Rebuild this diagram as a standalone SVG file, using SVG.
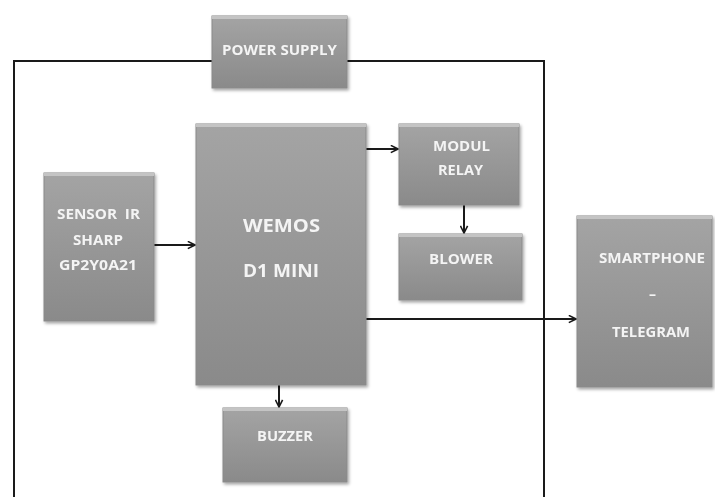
<svg xmlns="http://www.w3.org/2000/svg" width="715" height="497" viewBox="0 0 715 497">
<style>
.box{fill:url(#g);stroke:#8a8a8a;stroke-width:1}
.hl{fill:#c4c4c4}
.t{font-family:"Open Sans","Liberation Sans",sans-serif;font-weight:bold;fill:#f4f4f4;text-anchor:middle;font-size:14px}
.big{font-size:18px}
.c{stroke:#1a1a1a;stroke-width:2;fill:none}
</style>
<defs>
<linearGradient id="g" x1="0" y1="0" x2="0" y2="1">
<stop offset="0" stop-color="#a4a4a4"/>
<stop offset="1" stop-color="#8a8a8a"/>
</linearGradient>
<filter id="sh" x="-10%" y="-10%" width="130%" height="130%">
<feDropShadow dx="1.5" dy="2" stdDeviation="1.5" flood-color="#000" flood-opacity="0.35"/>
</filter>
<marker id="a" viewBox="0 0 10 10" refX="9" refY="5" markerWidth="9" markerHeight="9" markerUnits="userSpaceOnUse" orient="auto">
<path d="M1,1 L9,5 L1,9" fill="none" stroke="#1a1a1a" stroke-width="1.8"/>
</marker>
</defs>
<rect width="715" height="497" fill="#ffffff"/>
<g id="connectors">
<polyline class="c" points="14,497 14,61 212,61"/>
<polyline class="c" points="347,61 544,61 544,497"/>
<line class="c" x1="154" y1="245" x2="195" y2="245" marker-end="url(#a)"/>
<line class="c" x1="366" y1="149" x2="398" y2="149" marker-end="url(#a)"/>
<line class="c" x1="464" y1="205" x2="464" y2="233" marker-end="url(#a)"/>
<line class="c" x1="366" y1="319" x2="576" y2="319" marker-end="url(#a)"/>
<line class="c" x1="279" y1="385" x2="279" y2="407" marker-end="url(#a)"/>
</g>
<g id="power-supply" filter="url(#sh)">
<rect class="box" x="212" y="16" width="135" height="72"/>
<rect class="hl" x="212" y="16" width="135" height="3"/>
<text class="t" x="279.5" y="55" textLength="115" lengthAdjust="spacingAndGlyphs">POWER SUPPLY</text>
</g>
<g id="sensor-ir" filter="url(#sh)">
<rect class="box" x="44" y="173" width="110" height="148"/>
<rect class="hl" x="44" y="173" width="110" height="3"/>
<text class="t" x="98.5" y="219" textLength="83" lengthAdjust="spacingAndGlyphs">SENSOR&#160; IR</text>
<text class="t" x="98" y="245" textLength="50" lengthAdjust="spacingAndGlyphs">SHARP</text>
<text class="t" x="98" y="270" textLength="78" lengthAdjust="spacingAndGlyphs">GP2Y0A21</text>
</g>
<g id="wemos" filter="url(#sh)">
<rect class="box" x="196" y="124" width="170" height="261"/>
<rect class="hl" x="196" y="124" width="170" height="3"/>
<text class="t big" x="281.5" y="232" textLength="77" lengthAdjust="spacingAndGlyphs">WEMOS</text>
<text class="t big" x="281" y="277" textLength="76" lengthAdjust="spacingAndGlyphs">D1 MINI</text>
</g>
<g id="modul-relay" filter="url(#sh)">
<rect class="box" x="399" y="124" width="120" height="81"/>
<rect class="hl" x="399" y="124" width="120" height="3"/>
<text class="t" x="461.5" y="151" textLength="57" lengthAdjust="spacingAndGlyphs">MODUL</text>
<text class="t" x="460.5" y="175" textLength="45" lengthAdjust="spacingAndGlyphs">RELAY</text>
</g>
<g id="blower" filter="url(#sh)">
<rect class="box" x="399" y="234" width="123" height="66"/>
<rect class="hl" x="399" y="234" width="123" height="3"/>
<text class="t" x="461" y="264" textLength="64" lengthAdjust="spacingAndGlyphs">BLOWER</text>
</g>
<g id="smartphone" filter="url(#sh)">
<rect class="box" x="577" y="216" width="135" height="171"/>
<rect class="hl" x="577" y="216" width="135" height="3"/>
<text class="t" x="652" y="263" textLength="106" lengthAdjust="spacingAndGlyphs">SMARTPHONE</text>
<text class="t" x="652.5" y="299">–</text>
<text class="t" x="651" y="337" textLength="78" lengthAdjust="spacingAndGlyphs">TELEGRAM</text>
</g>
<g id="buzzer" filter="url(#sh)">
<rect class="box" x="223" y="408" width="124" height="74"/>
<rect class="hl" x="223" y="408" width="124" height="3"/>
<text class="t" x="285" y="441" textLength="56" lengthAdjust="spacingAndGlyphs">BUZZER</text>
</g>
</svg>
